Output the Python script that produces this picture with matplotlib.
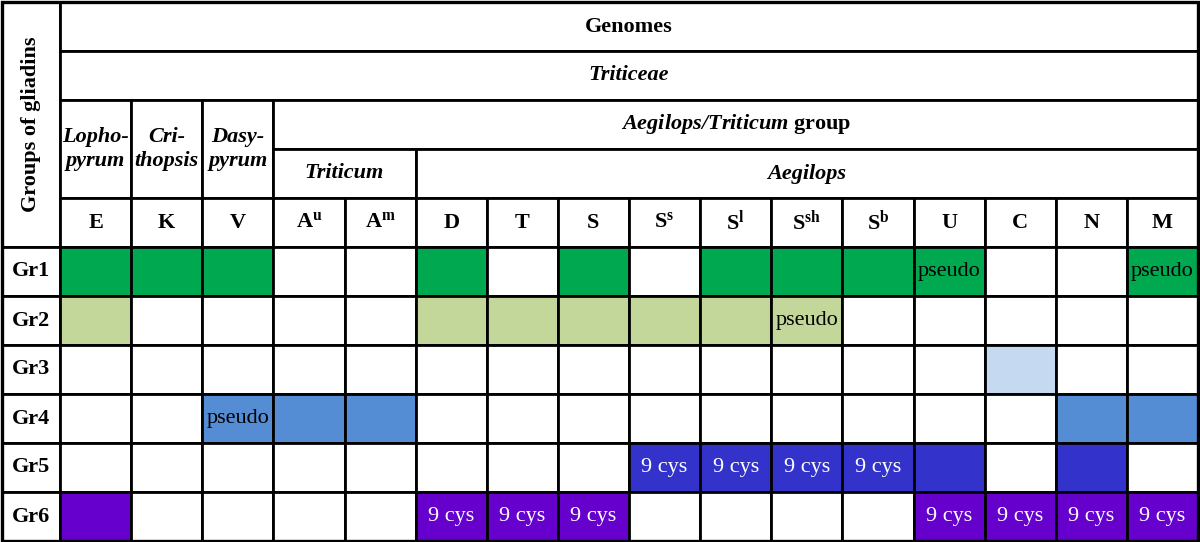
import matplotlib.pyplot as plt
from matplotlib.patches import Rectangle

plt.rcParams['font.family'] = ['Liberation Serif', 'DejaVu Serif']
plt.rcParams['mathtext.fontset'] = 'custom'
plt.rcParams['mathtext.rm'] = 'Liberation Serif'
plt.rcParams['mathtext.bf'] = 'Liberation Serif:bold'
plt.rcParams['mathtext.it'] = 'Liberation Serif:italic'
plt.rcParams['mathtext.bfit'] = 'Liberation Serif:bold:italic'

# genome columns (letter, superscript)
genomes = [('E', ''), ('K', ''), ('V', ''), ('A', 'u'), ('A', 'm'), ('D', ''), ('T', ''),
           ('S', ''), ('S', 's'), ('S', 'l'), ('S', 'sh'), ('S', 'b'), ('U', ''),
           ('C', ''), ('N', ''), ('M', '')]
groups = ['Gr1', 'Gr2', 'Gr3', 'Gr4', 'Gr5', 'Gr6']
group_colors = ['#00a84f', '#c4d79b', '#c5d9f1', '#548dd4', '#3333cc', '#6600cc']
note_colors = ['black', 'black', 'black', 'black', 'white', 'white']

# 1 = gene group present in the genome
presence = [
    [1, 1, 1, 0, 0, 1, 0, 1, 0, 1, 1, 1, 1, 0, 0, 1],
    [1, 0, 0, 0, 0, 1, 1, 1, 1, 1, 1, 0, 0, 0, 0, 0],
    [0, 0, 0, 0, 0, 0, 0, 0, 0, 0, 0, 0, 0, 1, 0, 0],
    [0, 0, 1, 1, 1, 0, 0, 0, 0, 0, 0, 0, 0, 0, 1, 1],
    [0, 0, 0, 0, 0, 0, 0, 0, 1, 1, 1, 1, 1, 0, 1, 0],
    [1, 0, 0, 0, 0, 1, 1, 1, 0, 0, 0, 0, 1, 1, 1, 1],
]
notes = [
    ['', '', '', '', '', '', '', '', '', '', '', '', 'pseudo', '', '', 'pseudo'],
    ['', '', '', '', '', '', '', '', '', '', 'pseudo', '', '', '', '', ''],
    [''] * 16,
    ['', '', 'pseudo', '', '', '', '', '', '', '', '', '', '', '', '', ''],
    ['', '', '', '', '', '', '', '', '9 cys', '9 cys', '9 cys', '9 cys', '', '', '', ''],
    ['', '', '', '', '', '9 cys', '9 cys', '9 cys', '', '', '', '', '9 cys', '9 cys', '9 cys', '9 cys'],
]

# grid geometry (pixels)
xs = [2, 60] + [60 + 71.125 * i for i in range(1, 17)]
ys = [2 + 49 * i for i in range(12)]

fig = plt.figure(figsize=(12, 5.42), dpi=100)
ax = fig.add_axes([0, 0, 1, 1])
ax.set_xlim(0, 1200)
ax.set_ylim(542, 0)
ax.axis('off')

LW = 2.0
FS = 16


def cell(r0, r1, c0, c1, text='', color='white', **kw):
    x0, x1 = xs[c0], xs[c1]
    y0, y1 = ys[r0], ys[r1]
    ax.add_patch(Rectangle((x0, y0), x1 - x0, y1 - y0, facecolor=color,
                           edgecolor='black', lw=LW, zorder=1))
    if text:
        ax.text((x0 + x1) / 2, (y0 + y1) / 2, text, ha='center', va='center',
                zorder=3, **kw)


bold = dict(fontsize=FS, fontweight='bold')
bolditalic = dict(fontsize=FS, fontweight='bold', style='italic', linespacing=1.3)

# header
cell(0, 5, 0, 1, 'Groups of gliadins', rotation=90, **bold)
cell(0, 1, 1, 17, 'Genomes', **bold)
cell(1, 2, 1, 17, 'Triticeae', **bolditalic)
cell(2, 4, 1, 2, 'Lopho-\npyrum', **bolditalic)
cell(2, 4, 2, 3, 'Cri-\nthopsis', **bolditalic)
cell(2, 4, 3, 4, 'Dasy-\npyrum', **bolditalic)
cell(2, 3, 4, 17, r'$\mathbfit{Aegilops/Triticum}\ \mathbf{group}$', fontsize=FS)
cell(3, 4, 4, 6, 'Triticum', **bolditalic)
cell(3, 4, 6, 17, 'Aegilops', **bolditalic)

for j, (g, sup) in enumerate(genomes):
    label = g if not sup else r'$\mathbf{%s}^{\mathbf{%s}}$' % (g, sup)
    cell(4, 5, j + 1, j + 2, label, **bold)

# data rows
for i, grp in enumerate(groups):
    cell(5 + i, 6 + i, 0, 1, grp, **bold)
    for j in range(16):
        col = group_colors[i] if presence[i][j] else 'white'
        cell(5 + i, 6 + i, j + 1, j + 2, notes[i][j], color=col,
             fontsize=FS, c=note_colors[i])

# outer border
ax.add_patch(Rectangle((xs[0], ys[0]), xs[-1] - xs[0], ys[-1] - ys[0],
                       fill=False, edgecolor='black', lw=2.4, zorder=4))

fig.savefig('out.png', dpi=100)
